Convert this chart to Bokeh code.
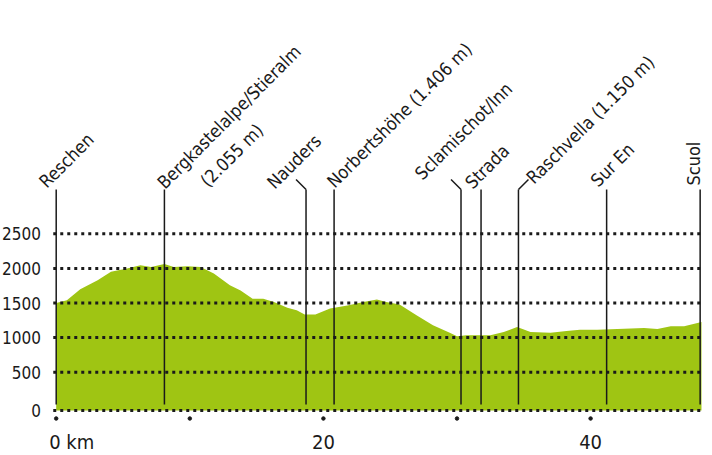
import math
from bokeh.plotting import figure
from bokeh.models import ColumnDataSource, Range1d
from bokeh.core.properties import value
from bokeh.embed import file_html
from bokeh.resources import INLINE

# ---------------- data ----------------
dist_km = [0.0, 0.8, 1.8, 3.1, 4.1, 5.3, 6.3, 7.1, 8.1, 8.8, 9.8, 10.8, 11.8, 13.0,
           13.8, 14.7, 15.5, 16.3, 17.3, 18.0, 18.6, 19.4, 20.5, 21.8, 23.0, 24.0,
           24.7, 25.7, 27.0, 28.2, 29.5, 30.0, 30.7, 32.5, 33.5, 34.5, 35.5, 37.0,
           38.2, 39.2, 40.5, 42.0, 44.0, 45.0, 46.0, 47.0, 48.0, 48.3]
elev_m = [1500, 1540, 1700, 1830, 1950, 2000, 2045, 2020, 2065, 2020, 2030, 2020, 1925, 1755,
          1680, 1560, 1560, 1515, 1430, 1395, 1335, 1335, 1420, 1465, 1515, 1550,
          1515, 1480, 1320, 1180, 1065, 1020, 1035, 1035, 1080, 1155, 1080, 1070,
          1095, 1115, 1115, 1125, 1140, 1125, 1165, 1165, 1210, 1225]

stop_names = ["Reschen", "Bergkastelalpe/Stieralm", "Nauders", "Norbertshöhe (1.406 m)",
              "Sclamischot/Inn", "Strada", "Raschvella (1.150 m)", "Sur En", "Scuol"]
stop_notes = ["", "(2.055 m)", "", "", "", "", "", "", ""]
stop_km = [0.0, 8.1, 18.7, 20.8, 30.3, 31.8, 34.6, 41.2, 48.2]

y_ticks = [0, 500, 1000, 1500, 2000, 2500]
y_tick_labels = ["0", "500", "1000", "1500", "2000", "2500"]
x_ticks = [0, 10, 20, 30, 40]
x_tick_labels = ["0 km", "", "20", "", "40"]

# ---------------- style ----------------
FONT = "DejaVu Sans Condensed"
GREEN = "#9fc513"
INK = "#1a1a1a"
W, H = 712, 455
PX_KM = 13.36
PX_M = 1 / 14.45
X0 = -55.7 / PX_KM
X1 = X0 + W / PX_KM
Y1 = 2500 + 233.3 / PX_M
Y0 = Y1 - H / PX_M


def y_at_px(py):
    return Y1 - py / PX_M


BASE = y_at_px(410)            # baseline of the profile (drawn "0" line)
POLE_BOTTOM, POLE_TOP = y_at_px(404), y_at_px(189)
GRID_X0, GRID_X1 = -0.22, 48.35
TICK_Y = y_at_px(418)
XLAB_Y = y_at_px(441)
YLAB_X = -1.14
# leader kinks (pixels) and label start offsets relative to pole top (pixels)
leader_dx = [0, 0, -10, 0, -10, 0, 10, 0, 0]
leader_dy = [0, 0, -10, 0, -10, 0, -10, 0, 0]
label_dx = [-14, -4, -36, -4, -43, -13, 11, -13, -7]
label_dy = [-5, -4, -4, -5, -13, -4, -9, -6, -4]
label_angle_deg = [45, 45, 45, 45, 45, 45, 45, 45, 90]

p = figure(width=W, height=H, x_range=Range1d(X0, X1), y_range=Range1d(Y0, Y1),
           output_backend="svg", toolbar_location=None, min_border=0,
           x_axis_location=None, y_axis_location=None)
p.grid.visible = False
p.outline_line_color = None
p.background_fill_color = "white"
p.border_fill_color = "white"

# profile
p.varea(x=dist_km, y1=[BASE] * len(dist_km), y2=elev_m, fill_color=GREEN)

# dotted grid lines
grid_y = [t if t > 0 else BASE for t in y_ticks]
p.segment(x0=[GRID_X0] * len(grid_y), y0=grid_y, x1=[GRID_X1] * len(grid_y), y1=grid_y,
          line_color=INK, line_width=3, line_dash="3 4")

# y tick labels
p.text(x=[YLAB_X] * len(y_ticks), y=grid_y, text=y_tick_labels,
       text_font=value(FONT), text_font_size="17px", text_color=INK,
       text_align="right", text_baseline="alphabetic")

# x tick dots + labels
p.scatter(x=x_ticks, y=[TICK_Y] * len(x_ticks), size=3.5, color=INK)
xl_align = ["left" if t == 0 else "center" for t in x_ticks]
xl_off = [-7 if t == 0 else 0 for t in x_ticks]
p.text(x=x_ticks, y=[XLAB_Y] * len(x_ticks), text=x_tick_labels,
       text_font=value(FONT), text_font_size="20px", text_color=INK,
       text_align=xl_align, text_baseline="alphabetic", x_offset=xl_off)

# poles
n = len(stop_km)
p.segment(x0=stop_km, y0=[POLE_BOTTOM] * n, x1=stop_km, y1=[POLE_TOP] * n,
          line_color=INK, line_width=1.5)

# leaders
lead_x1 = [k + d / PX_KM for k, d in zip(stop_km, leader_dx)]
lead_y1 = [POLE_TOP - d / PX_M for d in leader_dy]
p.segment(x0=stop_km, y0=[POLE_TOP] * n, x1=lead_x1, y1=lead_y1,
          line_color=INK, line_width=1.5)

# stop labels
ang = [math.radians(a) for a in label_angle_deg]
src = ColumnDataSource(dict(x=stop_km, y=[POLE_TOP] * n, t=stop_names, a=ang,
                            xo=label_dx, yo=label_dy))
p.text(x="x", y="y", text="t", angle="a", x_offset="xo", y_offset="yo", source=src,
       text_font=value(FONT), text_font_size="18px", text_color=INK,
       text_align="left", text_baseline="alphabetic")

# secondary label lines
note_idx = [i for i, s in enumerate(stop_notes) if s]
src2 = ColumnDataSource(dict(x=[stop_km[i] for i in note_idx], y=[POLE_TOP] * len(note_idx),
                             t=[stop_notes[i] for i in note_idx],
                             a=[ang[i] for i in note_idx],
                             xo=[label_dx[i] + 43 for i in note_idx],
                             yo=[label_dy[i] - 2 for i in note_idx]))
p.text(x="x", y="y", text="t", angle="a", x_offset="xo", y_offset="yo", source=src2,
       text_font=value(FONT), text_font_size="18px", text_color=INK,
       text_align="left", text_baseline="alphabetic")

open("out.html", "w").write(file_html(p, INLINE))
